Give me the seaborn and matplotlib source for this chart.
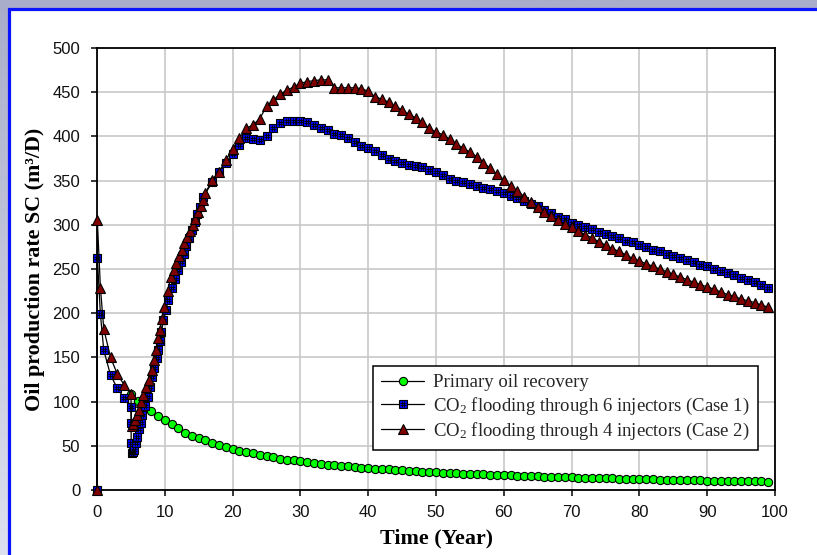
import numpy as np
import pandas as pd
import matplotlib
matplotlib.use("Agg")
import matplotlib.pyplot as plt
from matplotlib.path import Path
from matplotlib.patches import Rectangle
from matplotlib.colors import LinearSegmentedColormap
from matplotlib.legend_handler import HandlerTuple
import seaborn as sns

# ---- data -------------------------------------------------------------
primary_t = [5, 6, 7, 8, 9, 10, 11, 12, 13, 14, 15, 16, 17, 18, 19, 20,
             21, 22, 23, 24, 25, 26, 27, 28, 29, 30, 31, 32, 33, 34, 35,
             36, 37, 38, 39, 40, 41, 42, 43, 44, 45, 46, 47, 48, 49, 50,
             51, 52, 53, 54, 55, 56, 57, 58, 59, 60, 61, 62, 63, 64, 65,
             66, 67, 68, 69, 70, 71, 72, 73, 74, 75, 76, 77, 78, 79, 80,
             81, 82, 83, 84, 85, 86, 87, 88, 89, 90, 91, 92, 93, 94, 95,
             96, 97, 98, 99]
primary_q = [109, 101, 95, 89, 84, 79, 75, 70, 65, 61, 58.5, 56, 53, 50.5,
             48.5, 46.5, 44.5, 43, 41.5, 40, 38.5, 37, 35.5, 34.5, 33.5,
             32.5, 31.5, 30.5, 29.5, 28.7, 28, 27.3, 26.6, 26, 25.4, 24.8,
             24.2, 23.7, 23.2, 22.7, 22.2, 21.7, 21.3, 20.9, 20.5, 20.1,
             19.7, 19.3, 19, 18.6, 18.3, 18, 17.7, 17.4, 17.1, 16.8, 16.5,
             16.2, 16, 15.7, 15.5, 15.2, 15, 14.7, 14.5, 14.3, 14.1, 13.9,
             13.7, 13.5, 13.3, 13.1, 12.9, 12.7, 12.5, 12.3, 12.1, 12,
             11.8, 11.6, 11.5, 11.3, 11.2, 11, 10.9, 10.7, 10.6, 10.4,
             10.3, 10.2, 10, 9.9, 9.8, 9.7, 9.5]

case1_t = [0, 0.05, 0.5, 1, 2, 3, 4, 5, 5.02, 5.05, 5.1, 5.25, 5.45, 5.75,
           5.95, 6.25, 6.5, 6.7, 7.1, 7.5, 7.8, 8.1, 8.4, 8.8, 9.0, 9.3,
           9.5, 9.8, 10.2, 10.5, 11.0, 11.5, 12.0, 12.4, 12.8, 13.2, 13.6,
           14.0, 14.4, 14.8, 15.2, 15.7, 17, 18, 19, 20, 21, 22, 23, 24,
           25, 26, 27, 28, 29, 30, 31, 32, 33, 34, 35, 36, 37, 38, 39, 40,
           41, 42, 43, 44, 45, 46, 47, 48, 49, 50, 51, 52, 53, 54, 55, 56,
           57, 58, 59, 60, 61, 62, 63, 64, 65, 66, 67, 68, 69, 70, 71, 72,
           73, 74, 75, 76, 77, 78, 79, 80, 81, 82, 83, 84, 85, 86, 87, 88,
           89, 90, 91, 92, 93, 94, 95, 96, 97, 98, 99]
case1_q = [0, 263, 199, 158, 130, 115, 104, 94, 76, 53, 42, 43, 45, 53, 60,
           69, 76, 85, 95, 105, 117, 128, 138, 149, 158, 168, 179, 192, 204,
           215, 228, 239, 249, 258, 267, 276, 285, 294, 303, 312, 320, 332,
           348, 360, 370, 380, 390, 398, 397, 396, 400, 409, 415, 417, 417,
           417, 416, 413, 410, 407, 403, 402, 398, 394, 389, 387, 383, 379,
           375, 372, 370, 368, 367, 365, 362, 360, 356, 352, 350, 348, 346,
           344, 342, 340, 338, 336, 333, 330, 327, 324, 321, 317, 313, 309,
           306, 302, 300, 297, 295, 292, 290, 287, 285, 282, 280, 277, 275,
           272, 270, 267, 265, 263, 260, 258, 255, 253, 250, 248, 245, 243,
           240, 238, 235, 232, 229]

case2_t = [0, 0.05, 0.5, 1, 2, 3, 4, 5, 5.1, 5.35, 5.6, 5.85, 6.2, 6.55,
           6.85, 7.3, 7.7, 8.1, 8.4, 8.7, 9.0, 9.3, 9.55, 9.9, 10.4, 10.9,
           11.3, 11.7, 12.1, 12.5, 12.9, 13.3, 13.7, 14.1, 14.5, 14.9, 15.3,
           15.6, 16, 17, 18, 19, 20, 21, 22, 23, 24, 25, 26, 27, 28, 29, 30,
           31, 32, 33, 34, 35, 36, 37, 38, 39, 40, 41, 42, 43, 44, 45, 46,
           47, 48, 49, 50, 51, 52, 53, 54, 55, 56, 57, 58, 59, 60, 61, 62,
           63, 64, 65, 66, 67, 68, 69, 70, 71, 72, 73, 74, 75, 76, 77, 78,
           79, 80, 81, 82, 83, 84, 85, 86, 87, 88, 89, 90, 91, 92, 93, 94,
           95, 96, 97, 98, 99]
case2_q = [0, 305, 229, 182, 150, 131, 119, 109, 72, 75, 79, 85, 91, 100,
           107, 117, 125, 136, 147, 158, 172, 181, 193, 207, 225, 241, 249,
           257, 265, 272, 279, 286, 293, 300, 307, 314, 321, 328, 336, 351,
           360, 373, 386, 398, 409, 413, 420, 434, 441, 448, 452, 456, 460,
           462, 463, 464, 464, 455, 455, 455, 455, 454, 451, 445, 442, 439,
           434, 430, 425, 421, 416, 409, 405, 402, 397, 391, 387, 382, 377,
           370, 364, 357, 351, 344, 338, 332, 326, 320, 315, 310, 305, 301,
           297, 293, 289, 285, 281, 277, 273, 270, 266, 262, 259, 256, 253,
           250, 247, 244, 241, 238, 235, 232, 230, 227, 224, 221, 219, 216,
           214, 212, 209, 207]

series_names = ["Primary oil recovery",
                "CO$_2$ flooding through 6 injectors (Case 1)",
                "CO$_2$ flooding through 4 injectors (Case 2)"]
x_ticks = [0, 10, 20, 30, 40, 50, 60, 70, 80, 90, 100]
y_ticks = [0, 50, 100, 150, 200, 250, 300, 350, 400, 450, 500]

# ---- style ------------------------------------------------------------
sns.set_theme(style="white")
plt.rcParams["font.family"] = ["Liberation Sans", "DejaVu Sans"]
plt.rcParams["mathtext.fontset"] = "custom"
plt.rcParams["mathtext.rm"] = "Liberation Serif"
plt.rcParams["mathtext.it"] = "Liberation Serif:italic"
plt.rcParams["mathtext.bf"] = "Liberation Serif:bold"

W, H = 817, 555
fig = plt.figure(figsize=(W / 100, H / 100), dpi=100)

# soft lavender backdrop with a white panel framed in blue
bg = fig.add_axes([0, 0, 1, 1], zorder=-5)
grad = np.linspace(0, 1, 256).reshape(-1, 1)
bg_cmap = LinearSegmentedColormap.from_list("bg", ["#a9adc9", "#dde0ee"])
bg.imshow(grad, aspect="auto", cmap=bg_cmap, extent=[0, 1, 0, 1], origin="upper")
bg.set_axis_off()
panel = Rectangle((8.5 / W, -0.2), 1.5, 1.2 - 8.5 / H, transform=fig.transFigure,
                  facecolor="white", edgecolor="#0a14ff", linewidth=2.3, zorder=-4)
fig.patches.append(panel)

ax = fig.add_axes([97 / W, 1 - 490 / H, (775 - 97) / W, (490 - 48) / H])
ax.set_facecolor("white")

df_p = pd.DataFrame({"t": primary_t, "q": primary_q})
df_1 = pd.DataFrame({"t": case1_t, "q": case1_q})
df_2 = pd.DataFrame({"t": case2_t, "q": case2_q})

line_kw = dict(color="black", linewidth=0.9, sort=False, estimator=None,
               markeredgecolor="black", markeredgewidth=0.8, clip_on=False)

sns.lineplot(data=df_p, x="t", y="q", ax=ax, marker="o", markersize=5.9,
             markerfacecolor="#00ff00", zorder=3, **line_kw)
sns.lineplot(data=df_1, x="t", y="q", ax=ax, marker="s", markersize=5.6,
             markerfacecolor="#0000ff", zorder=4, **line_kw)
# black lattice inside the blue squares
lattice = Path([(-1, -1 / 3), (1, -1 / 3), (-1, 1 / 3), (1, 1 / 3),
                (-1 / 3, -1), (-1 / 3, 1), (1 / 3, -1), (1 / 3, 1)],
               [Path.MOVETO, Path.LINETO] * 4)
ax.plot(case1_t, case1_q, linestyle="none", marker=lattice, markersize=5.0,
        markerfacecolor="none", markeredgecolor="black", markeredgewidth=0.6,
        zorder=4.5, clip_on=False)
sns.lineplot(data=df_2, x="t", y="q", ax=ax, marker="^", markersize=6.8,
             markerfacecolor="#800000", zorder=5, **line_kw)

ax.set_xlim(0, 100)
ax.set_ylim(0, 500)
ax.set_xticks(x_ticks)
ax.set_yticks(y_ticks)
ax.grid(True, color="#c8c8c8", linewidth=1.2)
ax.set_axisbelow(True)
for s in ax.spines.values():
    s.set_visible(True)
    s.set_color("black")
    s.set_linewidth(1.3)
    s.set_zorder(2.5)
ax.tick_params(axis="both", direction="out", length=4.5, width=1.1,
               color="black", labelsize=12, labelcolor="#111111")
ax.tick_params(axis="x", pad=6.5, bottom=True)
ax.tick_params(axis="y", pad=7.5, left=True)

serif = ["Liberation Serif", "DejaVu Serif"]
ax.set_xlabel("Time (Year)", family=serif, fontweight="bold", fontsize=15.8,
              color="black")
ax.set_ylabel("Oil production rate SC (m\u00b3/D)", family=serif,
              fontweight="bold", fontsize=15.8, color="black")
ax.xaxis.set_label_coords(0.5, -0.088)
ax.yaxis.set_label_coords(-0.077, 0.5)

# legend with the lattice drawn over the square marker
h = ax.get_lines()
h_p, h_1, h_lat, h_2 = h[0], h[1], h[2], h[3]
leg = ax.legend([h_p, (h_1, h_lat), h_2], series_names,
                handler_map={tuple: HandlerTuple(ndivide=1)},
                loc="lower right", bbox_to_anchor=(0.975, 0.09),
                prop={"family": serif, "size": 13.5}, frameon=True,
                fancybox=False, edgecolor="black", framealpha=1,
                handlelength=2.25, handletextpad=0.5, borderpad=0.45,
                labelspacing=0.22, borderaxespad=0)
leg.get_frame().set_linewidth(1.1)
leg.set_zorder(10)

fig.savefig("out.png", dpi=100)
